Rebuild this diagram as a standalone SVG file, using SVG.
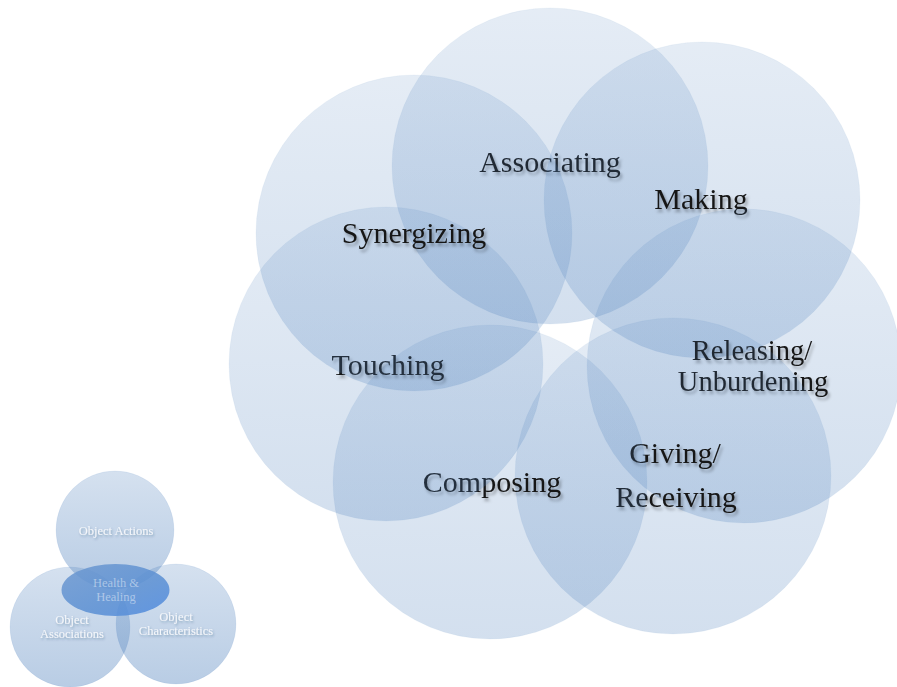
<svg xmlns="http://www.w3.org/2000/svg" width="897" height="687" viewBox="0 0 897 687">
<defs>
<linearGradient id="gBig" x1="0" y1="0" x2="0" y2="1">
<stop offset="0" stop-color="#4F81BD" stop-opacity="0.15"/>
<stop offset="1" stop-color="#4F81BD" stop-opacity="0.25"/>
</linearGradient>
<linearGradient id="gSmall" x1="0" y1="0" x2="0" y2="1">
<stop offset="0" stop-color="#4F81BD" stop-opacity="0.24"/>
<stop offset="1" stop-color="#4F81BD" stop-opacity="0.4"/>
</linearGradient>
<linearGradient id="gCore" x1="0" y1="0" x2="1" y2="1">
<stop offset="0" stop-color="#6d98cf"/>
<stop offset="0.6" stop-color="#5a8fd3"/>
<stop offset="1" stop-color="#4e8ae0"/>
</linearGradient>
<filter id="ts" x="-10%" y="-30%" width="130%" height="170%">
<feDropShadow dx="2" dy="3" stdDeviation="1.6" flood-color="#000" flood-opacity="0.33"/>
</filter>
<filter id="tss" x="-10%" y="-30%" width="130%" height="170%">
<feDropShadow dx="1" dy="1.5" stdDeviation="0.8" flood-color="#1f3a60" flood-opacity="0.35"/>
</filter>
</defs>
<style>
.big{fill:url(#gBig);stroke:#4F81BD;stroke-opacity:0.06;stroke-width:1}
.small{fill:url(#gSmall);stroke:#4F81BD;stroke-opacity:0.08;stroke-width:1}
.lbl{font-family:"Liberation Serif","Times New Roman",serif;font-size:30px;fill:#161616;text-anchor:middle;filter:url(#ts)}
.lbl2{font-size:28.5px}
.slbl{font-family:"Liberation Serif","Times New Roman",serif;font-size:12.5px;fill:#f4f7fb;text-anchor:middle;filter:url(#tss)}
.core{font-family:"Liberation Serif","Times New Roman",serif;font-size:12.5px;fill:#ffffff;fill-opacity:0.45;text-anchor:middle}
</style>
<rect width="897" height="687" fill="#ffffff"/>

<g id="associating">
<circle class="big" cx="550" cy="166" r="158"/>
<text class="lbl" x="550" y="172">Associating</text>
</g>
<g id="making">
<circle class="big" cx="702" cy="200" r="158"/>
<text class="lbl" x="701" y="209">Making</text>
</g>
<g id="releasing">
<circle class="big" cx="744" cy="366" r="157"/>
<text class="lbl lbl2" x="752" y="360">Releasing/</text>
<text class="lbl lbl2" x="753" y="391">Unburdening</text>
</g>
<g id="giving">
<circle class="big" cx="673" cy="476" r="158"/>
<text class="lbl" x="675" y="463">Giving/</text>
<text class="lbl" x="676" y="507">Receiving</text>
</g>
<g id="composing">
<circle class="big" cx="490" cy="482" r="157"/>
<text class="lbl" x="492" y="492">Composing</text>
</g>
<g id="touching">
<circle class="big" cx="386" cy="364" r="157"/>
<text class="lbl" x="388" y="375">Touching</text>
</g>
<g id="synergizing">
<circle class="big" cx="414" cy="233" r="158"/>
<text class="lbl" x="414" y="243">Synergizing</text>
</g>

<g id="object-actions">
<circle class="small" cx="115" cy="530" r="59"/>
<text class="slbl" x="116" y="535">Object Actions</text>
</g>
<g id="object-associations">
<circle class="small" cx="70" cy="627" r="60"/>
<text class="slbl" x="72" y="624">Object</text>
<text class="slbl" x="72" y="638">Associations</text>
</g>
<g id="object-characteristics">
<circle class="small" cx="176" cy="624" r="60"/>
<text class="slbl" x="176" y="621">Object</text>
<text class="slbl" x="176" y="635">Characteristics</text>
</g>
<g id="health-healing">
<ellipse cx="115.5" cy="590" rx="54" ry="26" fill="url(#gCore)" fill-opacity="0.85"/>
<text class="core" x="116" y="587">Health &amp;</text>
<text class="core" x="116" y="601">Healing</text>
</g>
</svg>
